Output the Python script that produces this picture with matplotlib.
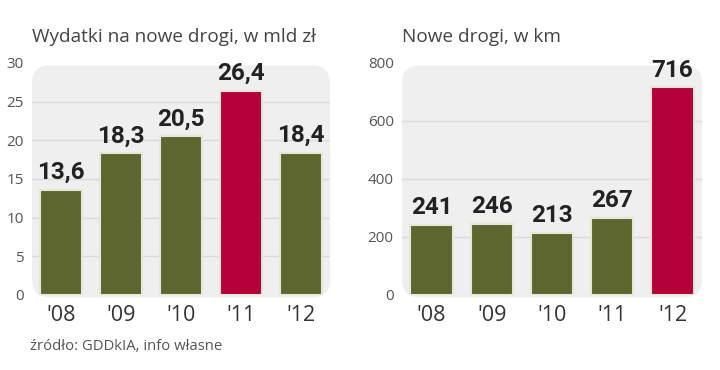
import matplotlib
matplotlib.use("Agg")
import matplotlib.pyplot as plt
from matplotlib.patches import FancyBboxPatch

years = ["'08", "'09", "'10", "'11", "'12"]
spend = [13.6, 18.3, 20.5, 26.4, 18.4]
spend_labels = ["13,6", "18,3", "20,5", "26,4", "18,4"]
km = [241, 246, 213, 267, 716]
km_labels = ["241", "246", "213", "267", "716"]

OLIVE = "#5e6630"
RED = "#b5003a"
spend_colors = [OLIVE, OLIVE, OLIVE, RED, OLIVE]
km_colors = [OLIVE, OLIVE, OLIVE, OLIVE, RED]

TICK_FONT = "Open Sans"
VAL_FONT = ["Roboto", "DejaVu Sans"]

fig = plt.figure(figsize=(7.2, 3.7), dpi=100)

def panel(rect, vals, labels, colors, ylim, yticks, title, title_x):
    ax = fig.add_axes(rect)
    ax.set_xlim(-0.49, 4.49)
    ax.set_ylim(0, ylim)
    ax.patch.set_visible(False)
    bg = FancyBboxPatch((0, -0.01), 1, 1.0, boxstyle="round,pad=0,rounding_size=0.06",
                        transform=ax.transAxes, facecolor="#efefef", edgecolor="none",
                        zorder=0, clip_on=False, mutation_aspect=300/232)
    ax.add_patch(bg)
    for t in yticks[1:-1]:
        ax.axhline(t, color="#dadada", lw=1, zorder=1)
    x = list(range(len(vals)))
    ax.bar(x, vals, width=0.7, color=colors, edgecolor="#e8e6d6", linewidth=1.5, zorder=2)
    for xi, v, lab in zip(x, vals, labels):
        ax.text(xi, v + ylim * 0.025, lab, ha="center", va="bottom", fontsize=17.5,
                fontweight="bold", family=VAL_FONT, color="#222222", zorder=3)
    ax.set_yticks(yticks)
    ax.set_yticklabels([str(t) for t in yticks], fontsize=11, family=TICK_FONT, color="#555555")
    ax.set_xticks(x)
    ax.set_xticklabels(years, fontsize=15.5, family=TICK_FONT, color="#333333")
    ax.tick_params(axis="both", length=0)
    ax.tick_params(axis="y", pad=6)
    ax.tick_params(axis="x", pad=7)
    for s in ax.spines.values():
        s.set_visible(False)
    fig.text(title_x, 1 - 37/370, title, fontsize=13.7, family=TICK_FONT, color="#444444",
             ha="left", va="center")
    return ax

panel([32/720, 1 - 295/370, 298/720, 232/370], spend, spend_labels, spend_colors,
      30, [0, 5, 10, 15, 20, 25, 30], "Wydatki na nowe drogi, w mld zł", 32/720)
panel([402/720, 1 - 295/370, 300/720, 232/370], km, km_labels, km_colors,
      800, [0, 200, 400, 600, 800], "Nowe drogi, w km", 402/720)

fig.text(30/720, 1 - 347/370, "źródło: GDDkIA, info własne", fontsize=10.7,
         family=TICK_FONT, color="#555555", ha="left", va="center")

fig.savefig("out.png", dpi=100)
